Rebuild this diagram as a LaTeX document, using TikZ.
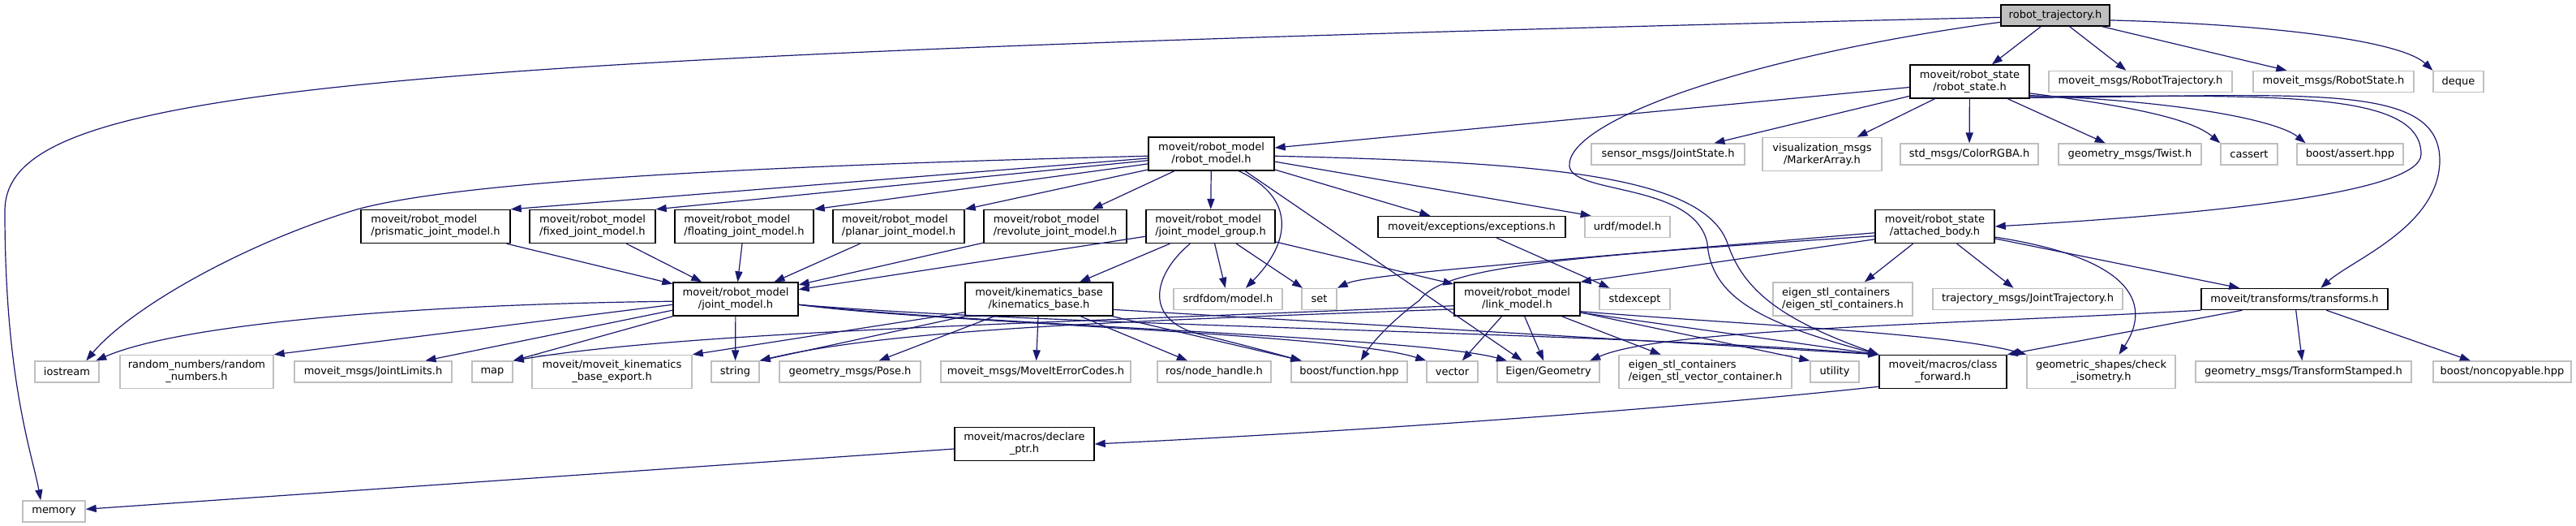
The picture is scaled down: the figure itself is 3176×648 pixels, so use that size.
\documentclass[tikz,border=0pt]{standalone}
\usepackage{fontspec}
\setmainfont{DejaVu Sans}
\usetikzlibrary{arrows.meta}
\definecolor{edgeblue}{RGB}{25,25,112}
\definecolor{extgray}{RGB}{191,191,191}
\begin{document}
\begin{tikzpicture}[x=0.5pt, y=-0.5pt,
  hfile/.style={inner sep=0pt, align=center, line width=0.7pt, font=\fontsize{6.5}{7.5}\selectfont},
  hdr/.style={hfile, draw=black, fill=white},
  ext/.style={hfile, draw=extgray, fill=white},
  root/.style={hfile, draw=black, fill=extgray},
  ll/.style={align=left},
  line1/.style={minimum height=13pt},
  line2/.style={minimum height=20.5pt},
  wd/.style={minimum width=#1*0.5pt},
  dep/.style={draw=edgeblue, line width=0.6pt, -{Triangle[length=6.5pt,width=4.6pt]}}]
  \useasboundingbox (0,0) rectangle (3176,648);

  % headers, top to bottom
  \node[root, line1, wd=134] (rt) at (2534,19) {robot\_trajectory.h};
  \node[hdr, line2, wd=147] (rstate) at (2428.5,100.5) {moveit/robot\_state\\/robot\_state.h};
  \node[ext, line1, wd=226] (rtraj) at (2639,100.5) {moveit\_msgs/RobotTrajectory.h};
  \node[ext, line1, wd=198] (rsmsg) at (2877,100.5) {moveit\_msgs/RobotState.h};
  \node[ext, line1, wd=62] (deque) at (3031,100.5) {deque};

  \node[hdr, line2, wd=155] (rmodel) at (1493.5,189.5) {moveit/robot\_model\\/robot\_model.h};
  \node[ext, line1, wd=189] (sensor) at (2056.5,190) {sensor\_msgs/JointState.h};
  \node[ext, line2, wd=147] (vis) at (2246.5,190) {visualization\_msgs\\/MarkerArray.h};
  \node[ext, line1, wd=170] (color) at (2428,190) {std\_msgs/ColorRGBA.h};
  \node[ext, line1, wd=176] (twist) at (2626,190) {geometry\_msgs/Twist.h};
  \node[ext, line1, wd=70] (cassert) at (2773,190) {cassert};
  \node[ext, line1, wd=131] (bassert) at (2897.5,190) {boost/assert.hpp};

  \node[hdr, ll, line2, wd=184] (prism) at (537,279) {moveit/robot\_model\\/prismatic\_joint\_model.h};
  \node[hdr, ll, line2, wd=155] (fixed) at (730.5,279) {moveit/robot\_model\\/fixed\_joint\_model.h};
  \node[hdr, ll, line2, wd=171] (floating) at (917.5,279) {moveit/robot\_model\\/floating\_joint\_model.h};
  \node[hdr, ll, line2, wd=162] (planar) at (1108,279) {moveit/robot\_model\\/planar\_joint\_model.h};
  \node[hdr, ll, line2, wd=176] (revolute) at (1301,279) {moveit/robot\_model\\/revolute\_joint\_model.h};
  \node[hdr, ll, line2, wd=159] (jmg) at (1492.5,279) {moveit/robot\_model\\/joint\_model\_group.h};
  \node[hdr, line1, wd=231] (exc) at (1814.5,279.5) {moveit/exceptions/exceptions.h};
  \node[ext, line1, wd=105] (urdf) at (2006.5,279.5) {urdf/model.h};
  \node[hdr, line2, wd=147] (abody) at (2385.5,279) {moveit/robot\_state\\/attached\_body.h};

  \node[hdr, line2, wd=154] (jmodel) at (907,368.5) {moveit/robot\_model\\/joint\_model.h};
  \node[hdr, line2, wd=182] (kbase) at (1281,368.5) {moveit/kinematics\_base\\/kinematics\_base.h};
  \node[ext, line1, wd=134] (srdf) at (1514,368.5) {srdfdom/model.h};
  \node[ext, line1, wd=43] (set) at (1626.5,368.5) {set};
  \node[hdr, line2, wd=155] (lmodel) at (1870.5,368.5) {moveit/robot\_model\\/link\_model.h};
  \node[ext, line1, wd=87] (stdexcept) at (2015.5,368.5) {stdexcept};
  \node[ext, ll, line2, wd=172] (estlc) at (2272,368.5) {eigen\_stl\_containers\\/eigen\_stl\_containers.h};
  \node[ext, line1, wd=234] (jtraj) at (2500,368.5) {trajectory\_msgs/JointTrajectory.h};
  \node[hdr, line1, wd=230] (transforms) at (2829,368.5) {moveit/transforms/transforms.h};

  \node[ext, line1, wd=79] (iostream) at (82.5,458) {iostream};
  \node[ext, line2, wd=189] (rnum) at (242.5,458) {random\_numbers/random\\\_numbers.h};
  \node[ext, line1, wd=194] (jlim) at (460,458) {moveit\_msgs/JointLimits.h};
  \node[ext, line1, wd=50] (map) at (607,458) {map};
  \node[ext, line2, wd=197] (kexport) at (754.5,458) {moveit/moveit\_kinematics\\\_base\_export.h};
  \node[ext, line1, wd=59] (string) at (906.5,458) {string};
  \node[ext, line1, wd=174] (pose) at (1048,458) {geometry\_msgs/Pose.h};
  \node[ext, line1, wd=234] (errc) at (1277,458) {moveit\_msgs/MoveItErrorCodes.h};
  \node[ext, line1, wd=140] (nh) at (1497,458) {ros/node\_handle.h};
  \node[ext, line1, wd=143] (bfunc) at (1663.5,458) {boost/function.hpp};
  \node[ext, line1, wd=63] (vector) at (1790.5,458) {vector};
  \node[ext, line1, wd=126] (egeom) at (1909,458) {Eigen/Geometry};
  \node[ext, ll, line2, wd=213] (esvc) at (2102.5,458) {eigen\_stl\_containers\\/eigen\_stl\_vector\_container.h};
  \node[ext, line1, wd=60] (utility) at (2262,458) {utility};
  \node[hdr, line2, wd=157] (cfwd) at (2395.5,458) {moveit/macros/class\\\_forward.h};
  \node[ext, line2, wd=183] (iso) at (2590.5,458) {geometric\_shapes/check\\\_isometry.h};
  \node[ext, line1, wd=266] (tstamp) at (2840,458) {geometry\_msgs/TransformStamped.h};
  \node[ext, line1, wd=170] (noncopy) at (3085,458) {boost/noncopyable.hpp};

  \node[hdr, line2, wd=172] (dptr) at (1263,547) {moveit/macros/declare\\\_ptr.h};
  \node[ext, line1, wd=77] (memory) at (66.5,630) {memory};

  % robot_trajectory.h
  \draw[dep] (rt) -- (rstate);
  \draw[dep] (rt) -- (rtraj);
  \draw[dep] (rt) -- (rsmsg);
  \draw[dep] (rt.-5) .. controls (2800,30) and (2960,50) .. (deque.north west);
  \draw[dep] (rt.187) .. controls (2150,70) and (1930,150) .. (1935,205)
    .. controls (1940,240) and (2090,225) .. (2105,300)
    .. controls (2110,370) and (2180,400) .. (cfwd.north west);
  \draw[dep] (rt.182) .. controls (400,70) and (6,110) .. (6,260)
    .. controls (6,470) and (40,560) .. (memory.140);

  % robot_state.h
  \draw[dep] (rstate) -- (rmodel);
  \draw[dep] (rstate) -- (sensor);
  \draw[dep] (rstate) -- (vis);
  \draw[dep] (rstate) -- (color);
  \draw[dep] (rstate) -- (twist);
  \draw[dep] (rstate.-11) .. controls (2620,130) and (2700,145) .. (cassert.north west);
  \draw[dep] (rstate.-13) .. controls (2700,125) and (2810,150) .. (bassert.166);
  \draw[dep] (rstate.-14.5) .. controls (2800,118) and (2985,110) .. (2985,190)
    .. controls (2985,240) and (2700,265) .. (abody.east);
  \draw[dep] (rstate.-15.5) .. controls (2850,118) and (3010,100) .. (3008,200)
    .. controls (3005,280) and (2900,320) .. (transforms.23);

  % robot_model.h
  \draw[dep] (rmodel.182) .. controls (900,205) and (560,225) .. (440,258)
    .. controls (300,300) and (160,380) .. (iostream.30);
  \draw[dep] (rmodel.184) -- (prism.north east);
  \draw[dep] (rmodel.186) -- (fixed.north east);
  \draw[dep] (rmodel.189) -- (floating.north east);
  \draw[dep] (rmodel.194) -- (planar.north east);
  \draw[dep] (rmodel) -- (revolute);
  \draw[dep] (rmodel) -- (jmg);
  \draw[dep] (rmodel.-32) .. controls (1600,245) and (1590,300) .. (srdf.32);
  \draw[dep] (rmodel.-27) -- (egeom.157);
  \draw[dep] (rmodel.-14) -- (exc.165);
  \draw[dep] (rmodel.-7) -- (urdf.163);
  \draw[dep] (rmodel.-2) .. controls (1900,200) and (2100,215) .. (2130,300)
    .. controls (2150,360) and (2200,395) .. (cfwd.north west);

  \draw[dep] (exc) -- (stdexcept);

  % joint_model_group.h
  \draw[dep] (jmg) -- (jmodel);
  \draw[dep] (jmg) -- (kbase);
  \draw[dep] (jmg) -- (srdf);
  \draw[dep] (jmg) -- (set);
  \draw[dep] (jmg) -- (lmodel);
  \draw[dep] (jmg.-140) .. controls (1420,340) and (1410,395) .. (1480,412)
    .. controls (1530,424) and (1570,435) .. (bfunc.167);

  % attached_body.h
  \draw[dep] (abody.186) .. controls (1800,330) and (1680,340) .. (set.north east);
  \draw[dep] (abody.189) .. controls (1900,318) and (1780,330) .. (1750,370)
    .. controls (1710,400) and (1690,425) .. (bfunc.44);
  \draw[dep] (abody.192) -- (lmodel.north east);
  \draw[dep] (abody) -- (estlc);
  \draw[dep] (abody) -- (jtraj);
  \draw[dep] (abody) -- (transforms);
  \draw[dep] (abody.-10) .. controls (2640,320) and (2650,380) .. (iso.44);

  % joint types
  \foreach \j in {prism, fixed, floating, planar, revolute}
    \draw[dep] (\j) -- (jmodel);

  % joint_model.h
  \draw[dep] (jmodel.182) .. controls (500,375) and (220,400) .. (iostream.21);
  \draw[dep] (jmodel.185) -- (rnum.north east);
  \draw[dep] (jmodel.190) -- (jlim.12);
  \draw[dep] (jmodel.south west) -- (map.north east);
  \draw[dep] (jmodel) -- (string);
  \draw[dep] (jmodel.-5) .. controls (1150,398) and (1650,410) .. (vector.north west);
  \draw[dep] (jmodel.-5) .. controls (1200,400) and (1750,415) .. (egeom.165);
  \draw[dep] (jmodel.-5) .. controls (1300,402) and (2000,410) .. (cfwd.north west);

  % kinematics_base.h
  \draw[dep] (kbase.190) -- (kexport.north east);
  \draw[dep] (kbase.193) -- (string.north east);
  \draw[dep] (kbase) -- (pose);
  \draw[dep] (kbase) -- (errc);
  \draw[dep] (kbase) -- (nh);
  \draw[dep] (kbase) -- (bfunc);
  \draw[dep] (kbase.-8) -- (cfwd.north west);

  % link_model.h
  \draw[dep] (lmodel.186) .. controls (1300,398) and (850,408) .. (map.north east);
  \draw[dep] (lmodel.189) .. controls (1400,395) and (1100,405) .. (string.north east);
  \draw[dep] (lmodel) -- (vector);
  \draw[dep] (lmodel) -- (egeom);
  \draw[dep] (lmodel) -- (esvc);
  \draw[dep] (lmodel) -- (utility.north west);
  \draw[dep] (lmodel.-12) -- (cfwd.north west);
  \draw[dep] (lmodel.-11) .. controls (2150,400) and (2400,410) .. (iso.north west);

  % transforms.h
  \draw[dep] (transforms.south west) .. controls (2400,400) and (2050,405) .. (egeom.15);
  \draw[dep] (transforms.-168) -- (cfwd.north east);
  \draw[dep] (transforms) -- (tstamp);
  \draw[dep] (transforms) -- (noncopy);

  % macros
  \draw[dep] (cfwd.193) .. controls (2000,510) and (1600,535) .. (dptr.east);
  \draw[dep] (dptr) -- (memory);
\end{tikzpicture}
\end{document}
